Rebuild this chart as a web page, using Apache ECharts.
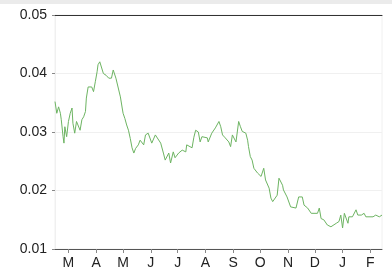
<!DOCTYPE html>
<html>
<head>
<meta charset="utf-8">
<script src="https://cdn.jsdelivr.net/npm/echarts@6/dist/echarts.min.js"></script>
<style>
html,body{margin:0;padding:0;background:#fff;}
#c{width:392px;height:271px;}
</style>
</head>
<body>
<div id="c"></div>
<script>
// Data: days after the start date, and the value read at that day
const startDate = '2018-02-14';
const dayOffsets = [0,2,4,6,7,9,10,11,13,15,17,19,20,22,24,26,28,30,32,34,35,37,41,43,45,47,48,50,52,54,57,60,63,65,67,68,70,73,75,76,78,80,82,84,86,88,90,93,95,97,99,101,103,104,106,108,112,114,118,121,123,127,129,132,134,138,142,146,147,153,155,157,160,162,164,170,171,175,179,183,185,187,190,194,196,198,202,205,207,209,213,215,216,218,220,222,224,226,230,233,235,239,241,243,244,248,250,254,255,259,263,269,272,276,278,282,286,293,295,297,300,304,308,310,314,317,319,321,323,327,328,332,336,338,342,345,347,355,358,362,365];
const values = [0.0352,0.0332,0.0343,0.0332,0.0321,0.0292,0.0281,0.0309,0.0292,0.0318,0.0332,0.0341,0.0315,0.0298,0.0318,0.0321,0.0303,0.0321,0.0326,0.0335,0.0358,0.0377,0.0377,0.0369,0.0386,0.0403,0.0415,0.0420,0.0417,0.0400,0.0397,0.0392,0.0392,0.0406,0.0409,0.0392,0.0389,0.0360,0.0341,0.0332,0.0323,0.0312,0.0303,0.0289,0.0273,0.0264,0.0272,0.0278,0.0286,0.0283,0.0278,0.0295,0.0295,0.0298,0.0301,0.0281,0.0295,0.0298,0.0281,0.0264,0.0252,0.0264,0.0247,0.0266,0.0256,0.0264,0.0269,0.0266,0.0278,0.0273,0.0291,0.0303,0.0300,0.0283,0.0292,0.0290,0.0283,0.0298,0.0307,0.0318,0.0309,0.0295,0.0290,0.0283,0.0275,0.0295,0.0283,0.0318,0.0309,0.0301,0.0298,0.0286,0.0275,0.0258,0.0252,0.0238,0.0235,0.0230,0.0224,0.0238,0.0218,0.0204,0.0187,0.0181,0.0181,0.0192,0.0221,0.0209,0.0201,0.0189,0.0172,0.0170,0.0189,0.0189,0.0175,0.0170,0.0161,0.0161,0.0170,0.0152,0.0150,0.0141,0.0138,0.0136,0.0144,0.0147,0.0158,0.0136,0.0161,0.0144,0.0155,0.0155,0.0167,0.0158,0.0158,0.0161,0.0155,0.0155,0.0158,0.0155,0.0158];
const tickDates = ['2018-03-01','2018-04-01','2018-05-01','2018-06-01','2018-07-01','2018-08-01','2018-09-01','2018-10-01','2018-11-01','2018-12-01','2019-01-01','2019-02-01'];
const tickLabels = ['M','A','M','J','J','A','S','O','N','D','J','F'];
const yTicks = [0.01,0.02,0.03,0.04,0.05];

const DAY = 86400000;
const t0 = Date.parse(startDate);
const seriesData = dayOffsets.map((d,i)=>[d, values[i]]);
const tickDays = tickDates.map(s=>Math.round((Date.parse(s)-t0)/DAY));

const font = "'Liberation Sans', Arial, sans-serif";
const chart = echarts.init(document.getElementById('c'), null, {renderer:'canvas'});
chart.setOption({
  animation:false,
  backgroundColor:'#fff',
  graphic:[{type:'rect', shape:{x:0,y:0,width:392,height:4}, style:{fill:'#ebebeb'}, silent:true}],
  grid:{left:55, right:10, top:15, bottom:22, show:true, borderColor:'#f0f0f0', borderWidth:1, backgroundColor:'transparent'},
  xAxis:[{
    type:'value', min:0, max:365,
    axisLine:{show:true, lineStyle:{color:'#555', width:1}},
    axisTick:{show:true, length:4, lineStyle:{color:'#888'}, customValues:tickDays},
    axisLabel:{show:true, customValues:tickDays, fontSize:14, color:'#222', fontFamily:font, margin:7,
      formatter:(v)=>{const i=tickDays.indexOf(Math.round(v));return i>=0?tickLabels[i]:'';}},
    splitLine:{show:false}
  },{
    type:'value', position:'top', min:0, max:1,
    axisLine:{show:true, onZero:false, lineStyle:{color:'#333', width:1}},
    axisTick:{show:false}, axisLabel:{show:false}, splitLine:{show:false}
  }],
  yAxis:{
    type:'value', min:yTicks[0], max:yTicks[yTicks.length-1], interval:0.01,
    axisLine:{show:true, lineStyle:{color:'#f0f0f0'}},
    axisTick:{show:true, length:3, lineStyle:{color:'#888'}},
    axisLabel:{fontSize:14, color:'#222', fontFamily:font, margin:8, formatter:(v)=>v.toFixed(2)},
    splitLine:{show:true, lineStyle:{color:'#f0f0f0', width:1}}
  },
  series:[{
    type:'line', xAxisIndex:0, data:seriesData, showSymbol:false, symbol:'none',
    lineStyle:{color:'#6db462', width:1}, itemStyle:{color:'#6db462'}
  }]
});
</script>
</body>
</html>
